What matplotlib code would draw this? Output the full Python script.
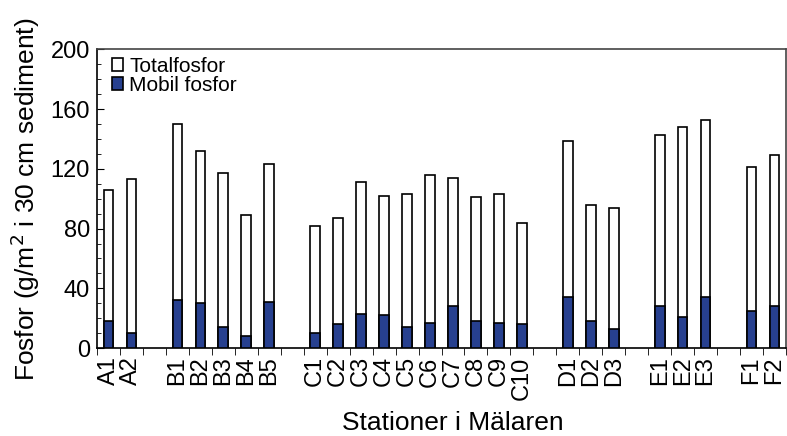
import numpy as np
import matplotlib.pyplot as plt
from matplotlib.ticker import MultipleLocator

plt.rcParams['font.family'] = ['Liberation Sans', 'DejaVu Sans']

# stations, grouped per basin (None = empty slot between groups)
stations = ['A1', 'A2', None,
            'B1', 'B2', 'B3', 'B4', 'B5', None,
            'C1', 'C2', 'C3', 'C4', 'C5', 'C6', 'C7', 'C8', 'C9', 'C10', None,
            'D1', 'D2', 'D3', None,
            'E1', 'E2', 'E3', None,
            'F1', 'F2']

totalfosfor = [106, 113,
               150, 132, 117, 89, 123,
               82, 87, 111, 102, 103, 116, 114, 101, 103, 84,
               139, 96, 94,
               143, 148, 153,
               121, 129]
mobil_fosfor = [18, 10,
                32, 30, 14, 8, 31,
                10, 16, 23, 22, 14, 17, 28, 18, 17, 16,
                34, 18, 13,
                28, 21, 34,
                25, 28]

blue = '#27408f'

pos = [i for i, s in enumerate(stations) if s is not None]
labels = [s for s in stations if s is not None]

fig = plt.figure(figsize=(7.87, 4.36), dpi=100)
ax = fig.add_axes([97 / 787, 1 - 348 / 436, 689 / 787, 298.5 / 436])

w = 0.42
ax.bar(pos, totalfosfor, width=w, color='white', edgecolor='black', linewidth=1.2,
       label='Totalfosfor', zorder=2)
ax.bar(pos, mobil_fosfor, width=w, color=blue, edgecolor='black', linewidth=1.2,
       label='Mobil fosfor', zorder=3)

ax.set_xlim(-0.5, len(stations) - 0.5)
ax.set_ylim(0, 200)
ax.yaxis.set_major_locator(MultipleLocator(40))
ax.yaxis.set_minor_locator(MultipleLocator(10))
ax.tick_params(axis='y', which='major', direction='in', length=5, labelsize=17, pad=5)
ax.tick_params(axis='y', which='minor', direction='in', length=3)

ax.set_xticks(pos)
ax.set_xticklabels(labels, rotation=90, fontsize=17)
ax.tick_params(axis='x', which='major', length=0, pad=6)
ax.set_xticks(np.arange(-0.5, len(stations) + 0.5, 1), minor=True)
ax.tick_params(axis='x', which='minor', direction='out', length=5)

for sp in ax.spines.values():
    sp.set_linewidth(1.2)
ax.spines['top'].set_color('#444444')
ax.spines['right'].set_color('#444444')

ax.set_ylabel('Fosfor (g/m$^2$ i 30 cm sediment)', fontsize=19, labelpad=6)
ax.set_xlabel('Stationer i Mälaren', fontsize=19)
ax.xaxis.set_label_coords(0.517, -0.21)

ax.legend(loc='upper left', frameon=False, fontsize=15, handlelength=0.55,
          handleheight=0.55, handletextpad=0.3, labelspacing=0.0,
          borderaxespad=0.3, bbox_to_anchor=(0.0, 1.025))

fig.savefig('out.png', dpi=100)
